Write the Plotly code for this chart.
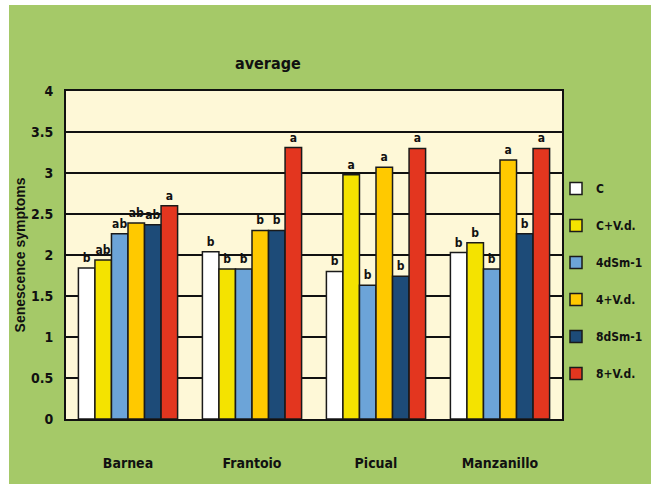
import plotly.graph_objects as go

cultivars = ["Barnea", "Frantoio", "Picual", "Manzanillo"]
treatments = ["C", "C+V.d.", "4dSm-1", "4+V.d.", "8dSm-1", "8+V.d."]

val_C = [1.84, 2.04, 1.80, 2.03]
val_CVd = [1.94, 1.83, 2.98, 2.15]
val_4dSm = [2.26, 1.83, 1.63, 1.83]
val_4Vd = [2.39, 2.30, 3.07, 3.16]
val_8dSm = [2.37, 2.30, 1.74, 2.26]
val_8Vd = [2.60, 3.31, 3.30, 3.30]

let_C = ["b", "b", "b", "b"]
let_CVd = ["ab", "b", "a", "b"]
let_4dSm = ["ab", "b", "b", "b"]
let_4Vd = ["ab", "b", "a", "a"]
let_8dSm = ["ab", "b", "b", "b"]
let_8Vd = ["a", "a", "a", "a"]

series = [val_C, val_CVd, val_4dSm, val_4Vd, val_8dSm, val_8Vd]
letters = [let_C, let_CVd, let_4dSm, let_4Vd, let_8dSm, let_8Vd]
colors = ["#FFFFFF", "#F4E300", "#6CA4D8", "#FFC900", "#1D4B78", "#E3361F"]

FONT = "DejaVu Sans Condensed, Liberation Sans Narrow, Arial Narrow, Liberation Sans, Arial"
GREEN = "#A5C968"
INK = "#111111"

fig = go.Figure()
for name, vals, lets, col in zip(treatments, series, letters, colors):
    fig.add_trace(go.Bar(
        x=cultivars, y=vals, name=name, legendgroup=name,
        marker=dict(color=col, line=dict(color="#1a1a1a", width=1.5)),
        text=lets, textposition="outside", cliponaxis=False,
        textfont=dict(family=FONT, size=12, color=INK, weight="bold"),
    ))

# white strips along the top and left edges of the page
fig.add_shape(type="rect", xref="paper", yref="paper", x0=-0.2, x1=(9 - 66) / 496,
              y0=-0.3, y1=1.35, fillcolor="white", line_width=0, layer="below")
fig.add_shape(type="rect", xref="paper", yref="paper", x0=-0.2, x1=1.3,
              y0=(419 - 5) / 328, y1=1.35, fillcolor="white", line_width=0, layer="below")

fig.add_annotation(text="average", xref="paper", yref="paper",
                   x=(268 - 66) / 496, y=(419 - 52) / 328, showarrow=False,
                   font=dict(family=FONT, size=16, color=INK, weight="bold"))

fig.update_layout(
    width=651, height=484,
    margin=dict(l=66, r=89, t=91, b=65, autoexpand=False),
    paper_bgcolor=GREEN, plot_bgcolor="#FEF8D7",
    barmode="group", bargap=0.2, bargroupgap=0,
    font=dict(family=FONT, color=INK),
    showlegend=True,
    legend=dict(x=(556 - 66) / 496, y=(419 - 174) / 328, xanchor="left", yanchor="top",
                bgcolor="rgba(0,0,0,0)",
                font=dict(family=FONT, size=12, color=INK, weight="bold"),
                tracegroupgap=18, itemwidth=30, traceorder="grouped"),
    xaxis=dict(showline=True, linecolor=INK, linewidth=2, mirror=True,
               ticks="", ticklabelstandoff=30,
               tickfont=dict(family=FONT, size=14, color=INK, weight="bold")),
    yaxis=dict(range=[0, 4], dtick=0.5, showgrid=True, gridcolor=INK, gridwidth=2,
               showline=True, linecolor=INK, linewidth=2, mirror=True,
               zeroline=False, ticks="", ticklabelstandoff=8,
               tickfont=dict(family=FONT, size=14, color=INK, weight="bold"),
               title=dict(text="Senescence symptoms", standoff=2,
                          font=dict(family="Liberation Sans, Arial", size=14, color=INK,
                                    weight="bold"))),
)

fig.write_html("out.html")
